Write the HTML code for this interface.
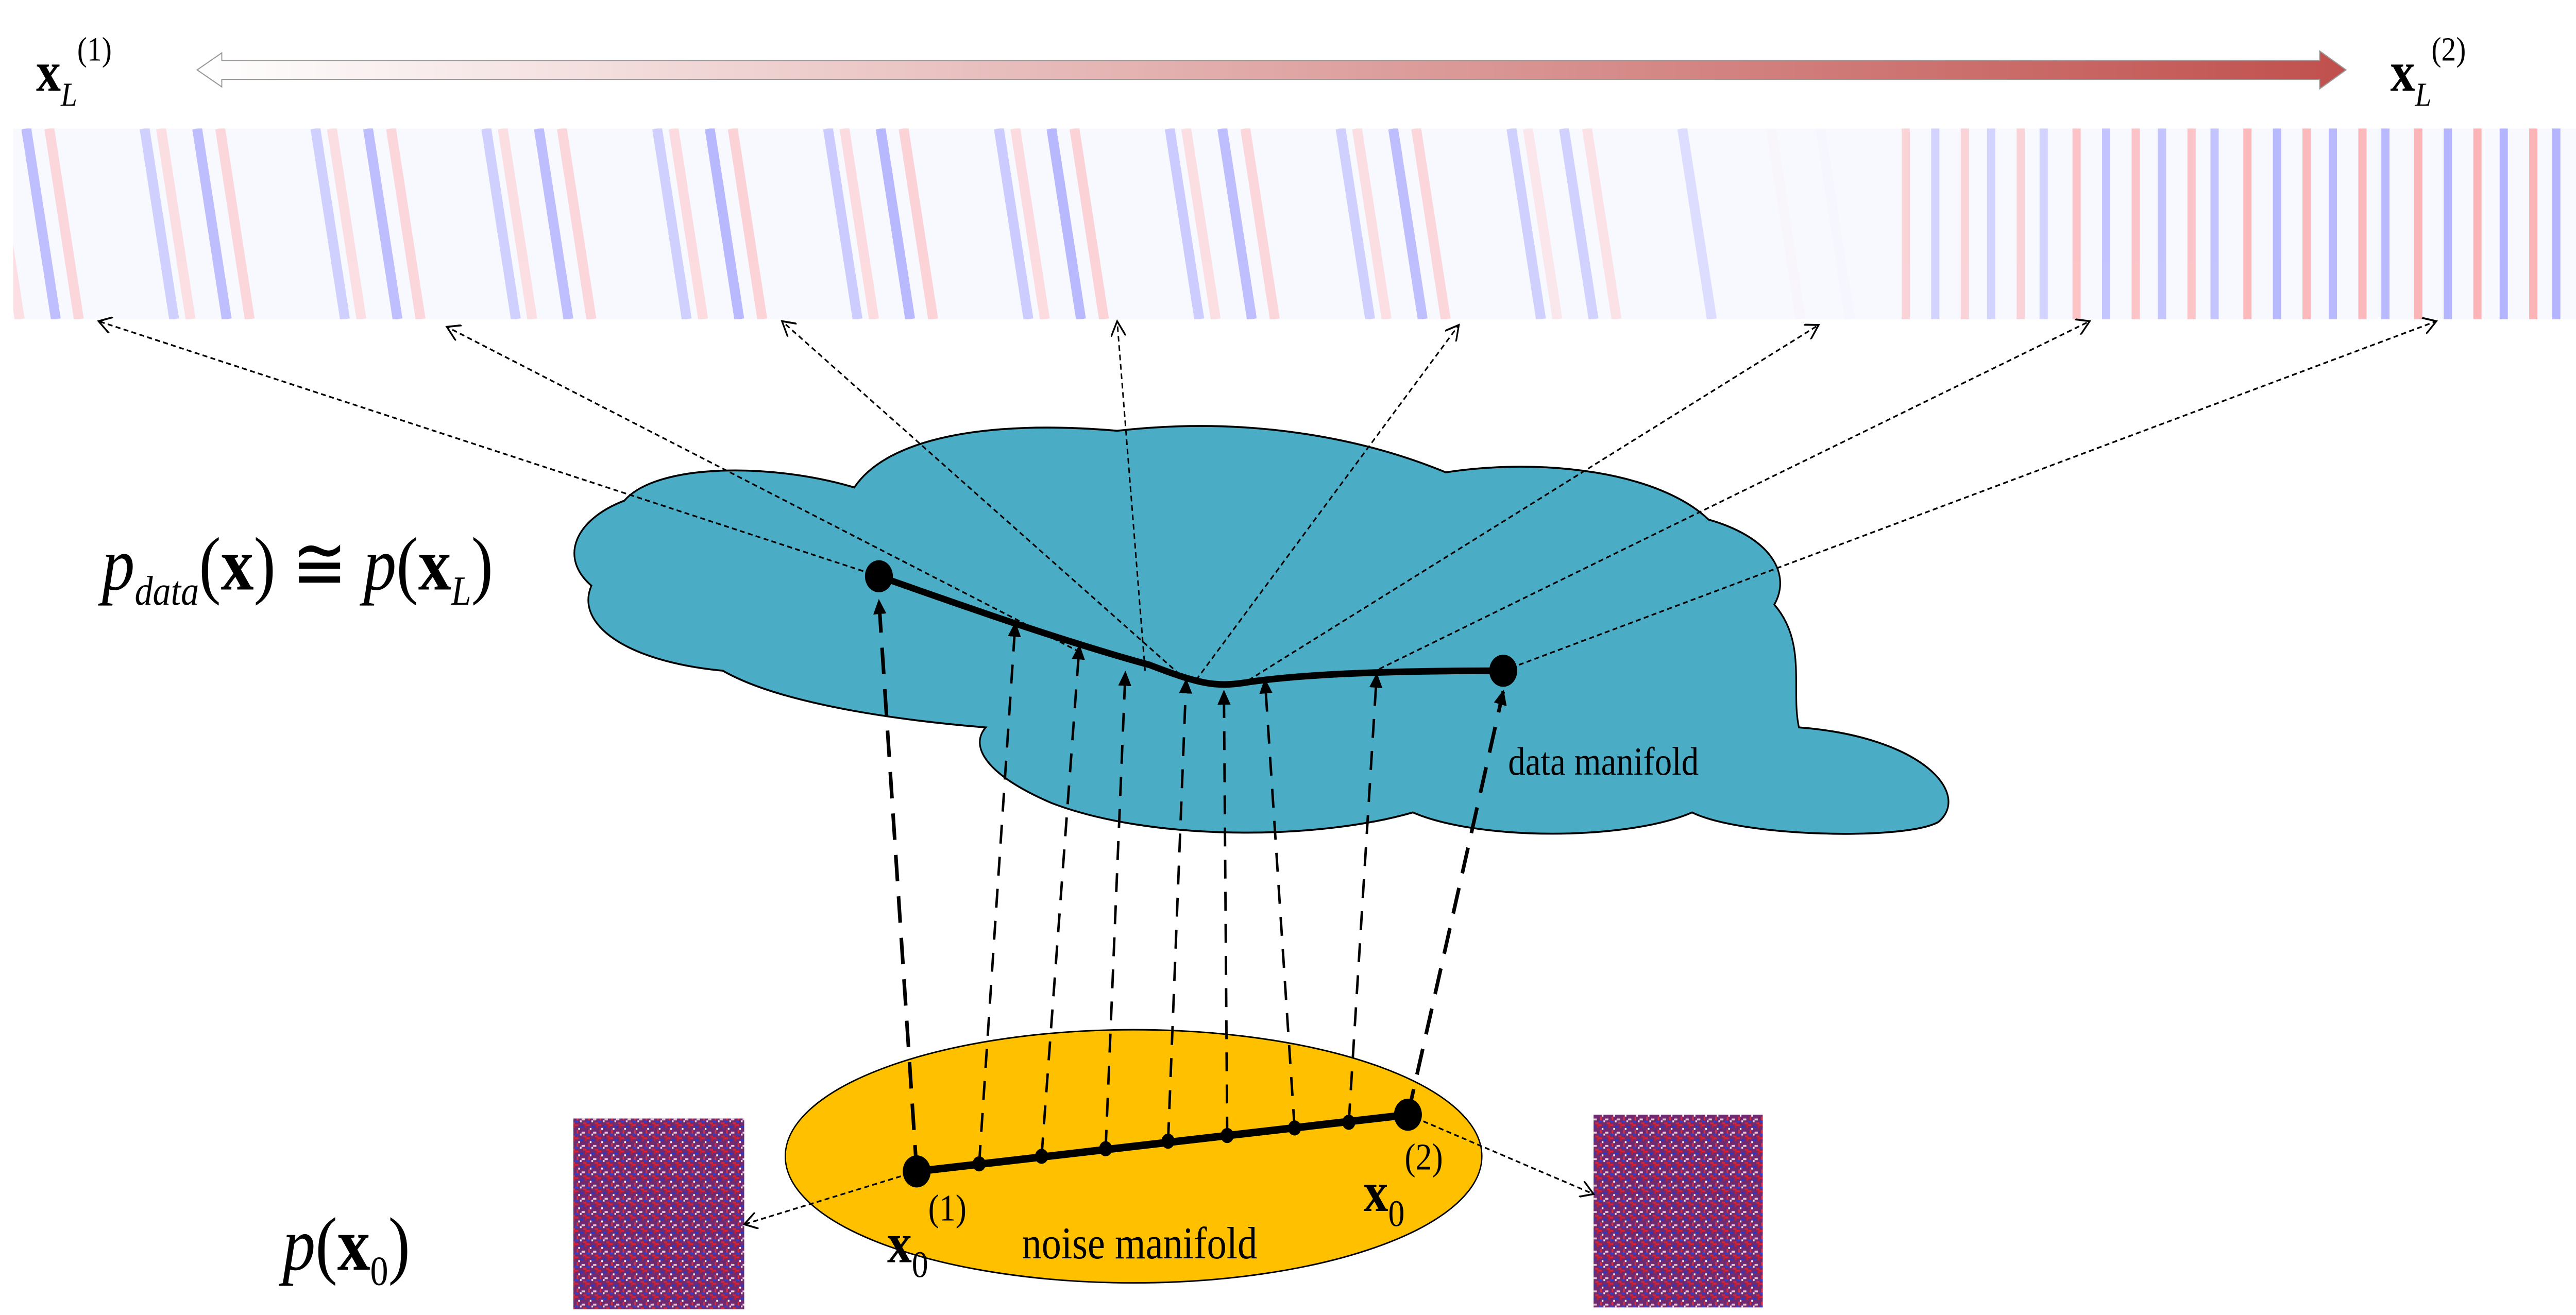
<!DOCTYPE html>
<html><head><meta charset="utf-8"><style>
html,body{margin:0;padding:0;background:#fff;width:100vw;height:100vh;overflow:hidden}
svg{display:block;width:100vw;height:100vh}
text{font-family:"Liberation Serif",serif;fill:#000}
</style></head><body>
<svg viewBox="0 0 1568 696" preserveAspectRatio="none" xmlns="http://www.w3.org/2000/svg">
<defs>
<linearGradient id="arrg" x1="0" x2="1" y1="0" y2="0"><stop offset="0" stop-color="#fff"/><stop offset="1" stop-color="#c0504d"/></linearGradient>
<pattern id="noise" width="7" height="7" patternUnits="userSpaceOnUse">
<rect width="7" height="7" fill="#702a70"/>
<rect x="0" y="0" width="2" height="1" fill="#e02030"/><rect x="3" y="1" width="2" height="1" fill="#2838c8"/>
<rect x="1" y="3" width="1" height="2" fill="#d83040"/><rect x="4" y="4" width="2" height="1" fill="#e8c8d8"/>
<rect x="2" y="2" width="1" height="1" fill="#fff"/><rect x="6" y="0" width="1" height="2" fill="#c02030"/>
<rect x="0" y="5" width="2" height="1" fill="#3040d0"/><rect x="5" y="6" width="2" height="1" fill="#d02838"/>
<rect x="3" y="5" width="1" height="1" fill="#f0e0e8"/>
</pattern>
<marker id="ah" markerWidth="8" markerHeight="8" refX="7" refY="4" orient="auto" markerUnits="userSpaceOnUse"><path d="M0,0 L8,4 L0,8 Z" fill="#000"/></marker>
<marker id="ao" markerWidth="9" markerHeight="9" refX="8" refY="4.5" orient="auto" markerUnits="userSpaceOnUse"><path d="M0,0 L8,4.5 L0,9" fill="none" stroke="#000" stroke-width="1"/></marker>
<clipPath id="stripclip"><rect x="8" y="68" width="1560" height="101"/></clipPath>
</defs>

<path d="M120,37 L135,28 L135,32 L1412,32 L1412,27 L1428,37 L1412,47 L1412,42 L135,42 L135,46 Z" fill="url(#arrg)" stroke="#999" stroke-width="0.6"/>
<text x="22" y="48" font-size="30" font-weight="bold">x<tspan font-size="18" font-style="italic" font-weight="normal" dy="8">L</tspan><tspan font-size="18" font-weight="normal" dy="-24">(1)</tspan></text>
<text x="1455" y="48" font-size="30" font-weight="bold">x<tspan font-size="18" font-style="italic" font-weight="normal" dy="8">L</tspan><tspan font-size="18" font-weight="normal" dy="-24">(2)</tspan></text>

<g id="strip" clip-path="url(#stripclip)"></g>

<path fill="#4bacc6" stroke="#000" stroke-width="1"
d="M380,265 C400,245 470,245 520,258 C540,232 600,222 680,228 C760,220 830,232 880,250 C940,242 1010,250 1040,275 C1080,285 1090,305 1080,320 C1100,340 1090,365 1095,385 C1170,390 1200,420 1180,435 C1160,445 1060,443 1030,430 C990,445 900,445 860,430 C800,445 700,445 640,425 C600,410 590,395 600,385 C530,380 470,370 440,355 C380,350 350,330 360,310 C340,295 350,275 380,265 Z"/>
<text x="918" y="410" font-size="21">data manifold</text>
<text x="62" y="312" font-size="40"><tspan font-style="italic">p</tspan><tspan font-style="italic" font-size="22" dy="8">data</tspan><tspan dy="-8">(</tspan><tspan font-weight="bold">x</tspan>) ≅ <tspan font-style="italic">p</tspan>(<tspan font-weight="bold">x</tspan><tspan font-style="italic" font-size="22" dy="8">L</tspan><tspan dy="-8">)</tspan></text>

<ellipse cx="690" cy="612" rx="212" ry="67" fill="#ffc000" stroke="#000" stroke-width="0.8"/>
<text x="622" y="666" font-size="24">noise manifold</text>
<text x="540" y="668" font-size="30" font-weight="bold">x<tspan font-size="20" font-weight="normal" dy="8">0</tspan><tspan font-size="20" font-weight="normal" dy="-30">(1)</tspan></text>
<text x="830" y="641" font-size="30" font-weight="bold">x<tspan font-size="20" font-weight="normal" dy="8">0</tspan><tspan font-size="20" font-weight="normal" dy="-30">(2)</tspan></text>
<text x="172" y="672" font-size="40"><tspan font-style="italic">p</tspan>(<tspan font-weight="bold">x</tspan><tspan font-size="22" dy="8">0</tspan><tspan dy="-8">)</tspan></text>

<rect x="349" y="592" width="104" height="101" fill="url(#noise)"/>
<rect x="970" y="590" width="103" height="102" fill="url(#noise)"/>

<g id="links"></g>

<path d="M535,305 C600,325 650,340 700,352 C730,362 740,364 760,361 C800,356 860,355 915,355" fill="none" stroke="#000" stroke-width="3.5"/>
<circle cx="535" cy="305" r="8.5"/>
<circle cx="915" cy="355" r="8.5"/>
<line x1="558" y1="620" x2="857" y2="590" stroke="#000" stroke-width="4"/>
<g id="noisedots"></g>
<circle cx="558" cy="620" r="8.5"/>
<circle cx="857" cy="590" r="8.5"/>
</svg>
<script>
const NS='http://www.w3.org/2000/svg';
// panel stripe types: 0 diagonal blue, 1 faint, 2 vertical red/blue
const panelKinds=[0,0,0,0,0,0,0,0,0,0,1,2,2,2,2];
const panelStrength=[0.45,0.45,0.45,0.45,0.5,0.5,0.5,0.45,0.45,0.3,0.08,0.35,0.5,0.6,0.65];
const strip=document.getElementById('strip');
const pw=104;
panelKinds.forEach((k,i)=>{
  const x0=8+i*pw, s=panelStrength[i];
  const bg=document.createElementNS(NS,'rect');
  bg.setAttribute('x',x0);bg.setAttribute('y',68);bg.setAttribute('width',pw);bg.setAttribute('height',101);bg.setAttribute('fill','#f8f8ff');
  
  
  strip.appendChild(bg);
  const lines=[];
  if(k===0){lines.push([8,0,'#7a7aff'],[22,0,'#ffb0b0'],[-14,0,'#ffc0c0'],[80,0,'#a0a0ff']);}
  if(k===1){lines.push([30,0,'#ffd8d8'],[60,0,'#e0e0ff']);}
  if(k===2){lines.push([8,1,'#ff9090'],[26,1,'#9090ff'],[44,1,'#ff9090'],[60,1,'#9090ff'],[78,1,'#ff9090'],[92,1,'#9090ff']);}
  lines.forEach(l=>{
    const p=document.createElementNS(NS,'line');
    const xa=x0+l[0], xb=l[1]?xa:xa+18;
    p.setAttribute('x1',xa);p.setAttribute('y1',68);p.setAttribute('x2',xb);p.setAttribute('y2',169);
    p.setAttribute('stroke',l[2]);p.setAttribute('stroke-width',l[1]?5:6);p.setAttribute('opacity',s);
    
    
    strip.appendChild(p);
  });
});
const links=document.getElementById('links');
function ln(x1,y1,x2,y2,dash,w,mk,name){
  const p=document.createElementNS(NS,'line');
  p.setAttribute('x1',x1);p.setAttribute('y1',y1);p.setAttribute('x2',x2);p.setAttribute('y2',y2);
  p.setAttribute('stroke','#000');p.setAttribute('stroke-width',w);p.setAttribute('stroke-dasharray',dash);
  p.setAttribute('marker-end','url(#'+mk+')');
  
  
  links.appendChild(p);
}
const upFrom=[[558,620],[596,616],[634,612],[673,608],[711,604],[747,601],[788,597],[821,594],[857,590]];
const upTo=[[535,318],[618,330],[657,342],[685,356],[722,360],[745,366],[770,360],[838,357],[915,366]];
upFrom.forEach((f,i)=>{const end=i===0||i===8;ln(f[0],f[1],upTo[i][0],upTo[i][1],end?'14,8':'10,7',end?2.2:1.5,'ah','projection-arrow');});
const stripFrom=[[535,305],[657,345],[722,360],[697,355],[728,360],[760,360],[835,356],[915,355]];
const stripTo=[[60,170],[272,173],[476,170],[680,170],[888,172],[1107,172],[1272,170],[1483,170]];
stripFrom.forEach((f,i)=>ln(f[0],f[1],stripTo[i][0],stripTo[i][1],'3,2',0.9,'ao','image-link-arrow'));
ln(558,620,453,648,'3,2',0.9,'ao','noise-image-link-1');
ln(857,590,970,632,'3,2',0.9,'ao','noise-image-link-2');
const nd=document.getElementById('noisedots');
upFrom.slice(1,8).forEach(f=>{const c=document.createElementNS(NS,'circle');c.setAttribute('cx',f[0]);c.setAttribute('cy',f[1]);c.setAttribute('r',4);


nd.appendChild(c);});
</script>
</body></html>
